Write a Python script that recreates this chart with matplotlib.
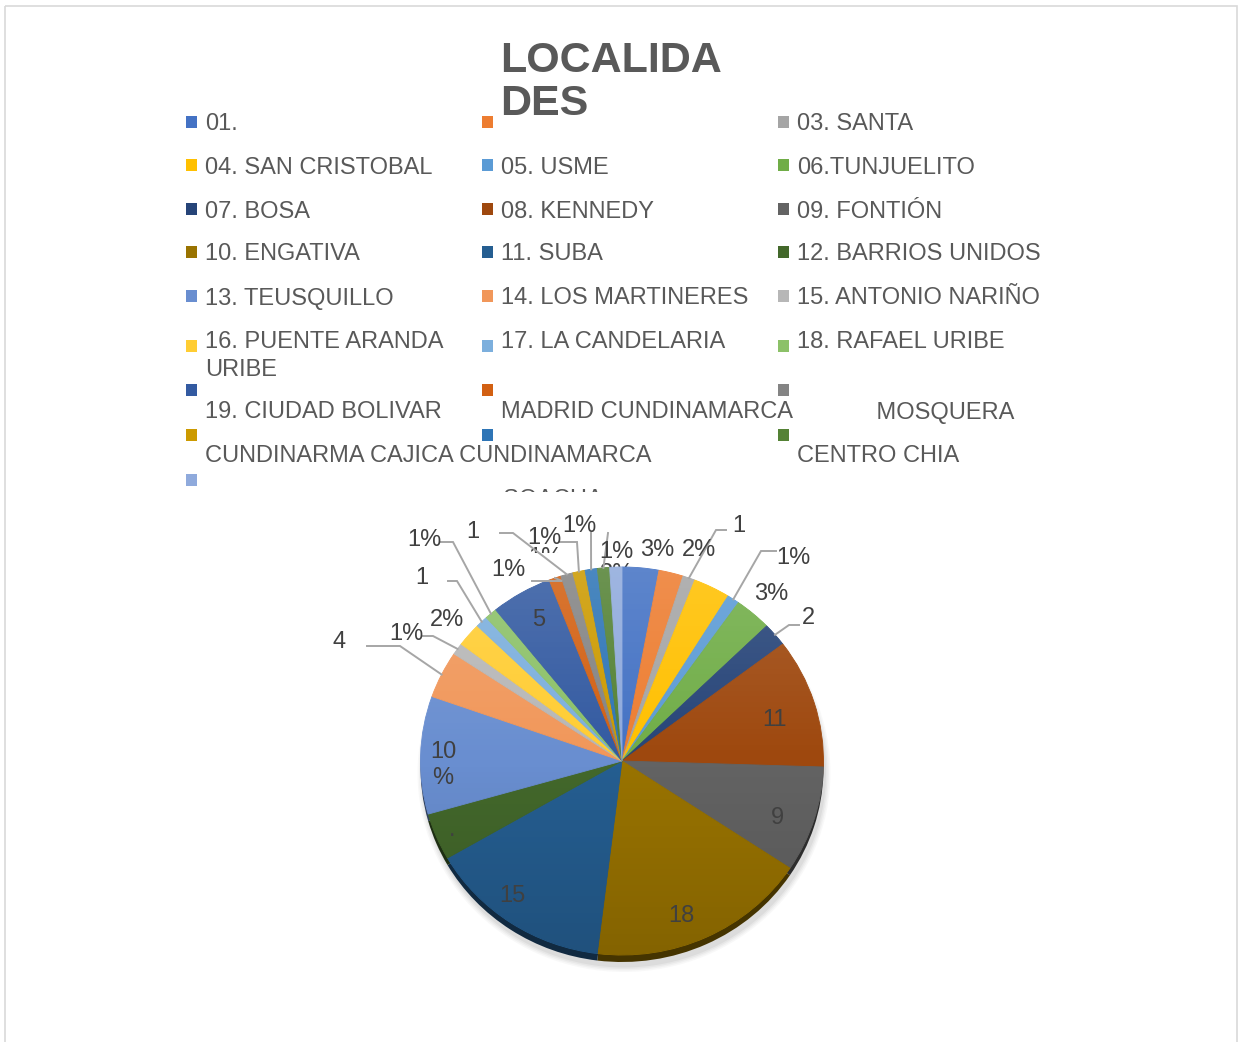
import numpy as np
import matplotlib
matplotlib.use('Agg')
import matplotlib.pyplot as plt
import matplotlib.colors as mcolors
from matplotlib.patches import Rectangle, Ellipse, Circle
from matplotlib.transforms import Bbox

plt.rcParams['font.family'] = ['Liberation Sans', 'DejaVu Sans']

W, H = 1238, 1042

# ---- datos ----
leyenda = ['01.', '', '03. SANTA',
           '04. SAN CRISTOBAL', '05. USME', '06.TUNJUELITO',
           '07. BOSA', '08. KENNEDY', '09. FONTIÓN',
           '10. ENGATIVA', '11. SUBA', '12. BARRIOS UNIDOS',
           '13. TEUSQUILLO', '14. LOS MARTINERES', '15. ANTONIO NARIÑO',
           '16. PUENTE ARANDA\nURIBE', '17. LA CANDELARIA', '18. RAFAEL URIBE',
           '19. CIUDAD BOLIVAR', 'MADRID CUNDINAMARCA', '            MOSQUERA',
           'CUNDINARMA CAJICA CUNDINAMARCA', '', 'CENTRO CHIA',
           ' ' * 45 + 'SOACHA']
valores = [3, 2, 1, 3, 1, 3, 2, 11, 9, 18, 15, 4, 10, 4, 1, 2, 1, 1, 5,
           1, 1, 1, 1, 1, 1]
etiquetas = ['3%', '2%', '1', '3%', '1%', '3%', '2', '11', '9', '18', '15',
             '.', '10\n%', '4', '1%', '2%', '1', '1%', '5',
             '1%', '1', '1%', '1%', '1%', '1%']
colores = ['#4472C4', '#ED7D31', '#A5A5A5', '#FFC000', '#5B9BD5', '#70AD47',
           '#264478', '#9E480E', '#636363', '#997300', '#255E91', '#43682B',
           '#698ED0', '#F1975A', '#B7B7B7', '#FFCD33', '#7CAFDD', '#8CC168',
           '#335AA1', '#D26012', '#848484', '#CC9A00', '#2E75B6', '#548235',
           '#8FAADC']

# ---- posiciones (pixeles) ----
col_x = [186, 482, 778]
fila_marca = [122, 165, 209, 252, 296, 346, 390, 435, 480]
fila_texto = [122, 165, 209, 252, 296, 339, 410, 453, 497]

pos_etq = [(657, 548), (699, 548), (739, 523), (616, 572), (793, 556),
           (771, 592), (808, 616), (774, 718), (777, 815), (681, 914),
           (512, 894), (452, 827), (443, 763), (339, 640), (406, 632),
           (447, 617), (422, 575), (424, 537), (539, 617), (508, 568),
           (473, 529), (544, 535), (579, 523), (616, 549), (545, 556)]
# guias: (inicio junto a la etiqueta, codo)
guias = {2: ((726, 530), (716, 530)), 4: ((776, 551), (761, 551)),
         6: ((799, 625), (789, 625)), 13: ((367, 646), (400, 646)),
         14: ((423, 636), (433, 636)), 16: ((448, 581), (457, 581)),
         17: ((441, 542), (453, 542)), 19: ((532, 581), (562, 581)),
         20: ((500, 533), (513, 533)), 21: ((560, 542), (577, 542)),
         22: ((591, 533), (591, 533)), 23: ((608, 533), (608, 533))}
ocultas = {3, 24}  # quedan detras del pastel

cx, cy, rx, ry, prof = 622, 761, 201.5, 194, 7

fig = plt.figure(figsize=(W / 100, H / 100), dpi=100)


def capa(z):
    a = fig.add_axes([0, 0, 1, 1], zorder=z)
    a.set_xlim(0, W)
    a.set_ylim(H, 0)
    a.axis('off')
    return a


def eje_pastel(dy, z):
    a = fig.add_axes([(cx - rx) / W, (H - (cy + dy) - ry) / H,
                      2 * rx / W, 2 * ry / H], zorder=z)
    return a


fondo = capa(0)
frente = capa(3)
fondo.add_patch(Rectangle((5, 6), 1232, 1040, fill=False, ec='#D9D9D9', lw=1.2))

# sombra suave bajo el pastel
for k, al in enumerate([0.05, 0.06, 0.08, 0.1]):
    fondo.add_patch(Ellipse((cx + 2, cy + 12), 2 * rx + 10 - 3 * k,
                            2 * ry + 10 - 3 * k, color='#808080', alpha=al,
                            lw=0))

# canto (3D)
canto = eje_pastel(prof, 1)
oscuros = [tuple(np.array(mcolors.to_rgb(c)) * 0.45) for c in colores]
canto.pie(valores, colors=oscuros, startangle=90, counterclock=False,
          radius=1, wedgeprops=dict(linewidth=0))
canto.set_aspect('auto')
canto.set_xlim(-1, 1)
canto.set_ylim(-1, 1)
canto.axis('off')

ax = eje_pastel(0, 2)
wedges, _ = ax.pie(valores, colors=colores, startangle=90, counterclock=False,
                   radius=1, wedgeprops=dict(linewidth=0.6))
for w in wedges:
    w.set_edgecolor(w.get_facecolor())
ax.set_aspect('auto')
ax.set_xlim(-1, 1)
ax.set_ylim(-1, 1)
ax.axis('off')

# brillo: claro arriba, oscuro abajo
t = np.linspace(0, 1, 256)
grad = np.zeros((256, 1, 4))
arriba = t < 0.5
grad[arriba, 0, :3] = 1.0
grad[arriba, 0, 3] = 0.14 * (1 - 2 * t[arriba])
grad[~arriba, 0, 3] = 0.14 * (2 * t[~arriba] - 1)
im = ax.imshow(grad, extent=(-1, 1, -1, 1), aspect='auto', origin='upper',
               zorder=3)
im.set_clip_path(Circle((0, 0), 1, transform=ax.transData))

# titulo
for j, linea in enumerate(['LOCALIDA', 'DES']):
    frente.text(500, 72 + j * 43, linea, fontsize=31, fontweight='bold',
                color='#595959', va='baseline', ha='left')

# leyenda
clip_ley = Bbox.from_extents(0, H - 492, W, H)
for i, txt in enumerate(leyenda):
    fila, col = divmod(i, 3)
    mx = col_x[col]
    fondo.add_patch(Rectangle((mx, fila_marca[fila] - 6), 11, 12,
                              color=colores[i], lw=0))
    for j, linea in enumerate(txt.split('\n')):
        tt = fondo.text(mx + 19, fila_texto[fila] + 8.5 + j * 28, linea,
                        fontsize=17, color='#595959', va='baseline',
                        ha='left', clip_on=True)
        tt.set_clip_box(clip_ley)

# etiquetas de datos
for i, w in enumerate(wedges):
    x, y = pos_etq[i]
    capa_txt = fondo if i in ocultas else frente
    lineas = etiquetas[i].split('\n')
    for j, linea in enumerate(lineas):
        yy = y + (j - (len(lineas) - 1) / 2) * 26
        tt = capa_txt.text(x, yy + 8.5, linea, fontsize=17, color='#404040',
                           ha='center', va='baseline')
        if i == 24:
            tt.set_clip_on(True)
            tt.set_clip_box(Bbox.from_extents(0, H - 553, W, H))
    if i in guias:
        ang = np.deg2rad((w.theta1 + w.theta2) / 2)
        ancla = (cx + rx * np.cos(ang), cy - ry * np.sin(ang))
        (x0, y0), (x1, y1) = guias[i]
        frente.plot([x0, x1, ancla[0]], [y0, y1, ancla[1]], color='#A6A6A6',
                     lw=1.4, solid_joinstyle='miter')

fig.savefig('out.png', dpi=100, facecolor='white')
